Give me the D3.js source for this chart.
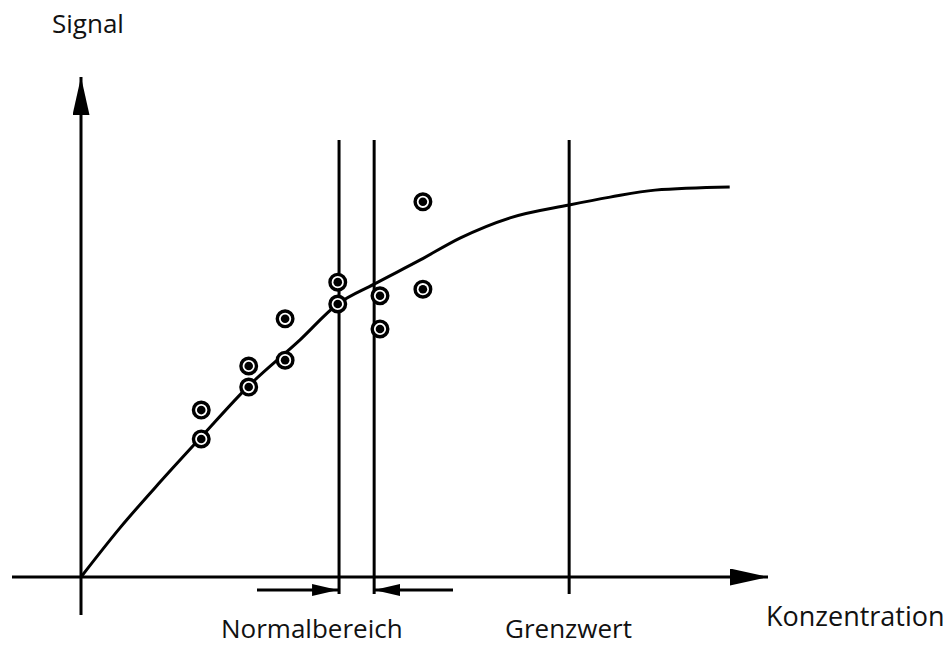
<!DOCTYPE html>
<html>
<head>
<meta charset="utf-8">
<script src="https://cdn.jsdelivr.net/npm/d3@7"></script>
<style>
  body { margin: 0; background: #fff; }
  text { font-family: "Open Sans", sans-serif; font-size: 26px; fill: #111; }
</style>
</head>
<body>
<svg id="chart" width="952" height="646"></svg>
<script>
// calibration curve (concentration, signal) in arbitrary units 0..100
const curveX = [0, 6, 12.2, 18.5, 25.8, 33.7, 39.5, 45.1, 52.2, 58.3, 66, 75.1, 81.4, 88.3, 99.8]
const curveY = [0, 12.6, 24.4, 35.9, 49, 60.8, 70, 75.1, 81.3, 86.9, 92.1, 95.4, 97.4, 99.2, 100]

// measured points
const pointX = [18.5, 18.5, 25.8, 25.8, 31.4, 31.4, 39.5, 39.5, 46, 46, 52.6, 52.6]
const pointY = [35.4, 42.8, 48.7, 54.1, 55.6, 66.2, 70, 75.6, 72.1, 63.6, 73.8, 96.2]

// vertical reference lines: normal range bounds and limit value
const markerX = [39.7, 45.1, 75.1]
const labels = ['Normalbereich', 'Grenzwert']

const svg = d3.select('#chart')

const x = d3.scaleLinear().domain([0, 100]).range([81, 731])
const y = d3.scaleLinear().domain([0, 100]).range([577, 187])

// arrowhead markers
const defs = svg.append('defs')
defs.append('marker')
  .attr('id', 'head')
  .attr('viewBox', '0 0 38 17')
  .attr('refX', 38)
  .attr('refY', 8.5)
  .attr('markerWidth', 38)
  .attr('markerHeight', 17)
  .attr('markerUnits', 'userSpaceOnUse')
  .attr('orient', 'auto')
  .append('path')
  .attr('d', 'M0,0 L38,8.5 L0,17 Z')
  .attr('fill', '#000')

defs.append('marker')
  .attr('id', 'headSmall')
  .attr('viewBox', '0 0 26 12')
  .attr('refX', 26)
  .attr('refY', 6)
  .attr('markerWidth', 26)
  .attr('markerHeight', 12)
  .attr('markerUnits', 'userSpaceOnUse')
  .attr('orient', 'auto')
  .append('path')
  .attr('d', 'M0,0 L26,6 L0,12 Z')
  .attr('fill', '#000')

// axes
svg.append('line')
  .attr('x1', 12).attr('y1', y(0))
  .attr('x2', 768).attr('y2', y(0))
  .attr('stroke', '#000').attr('stroke-width', 3)
  .attr('marker-end', 'url(#head)')

svg.append('line')
  .attr('x1', x(0)).attr('y1', 615)
  .attr('x2', x(0)).attr('y2', 77)
  .attr('stroke', '#000').attr('stroke-width', 3)
  .attr('marker-end', 'url(#head)')

// vertical lines
svg.selectAll('line.vline')
  .data(markerX)
  .enter()
  .append('line')
  .attr('class', 'vline')
  .attr('x1', d => x(d)).attr('x2', d => x(d))
  .attr('y1', 140).attr('y2', 594)
  .attr('stroke', '#000').attr('stroke-width', 3)

// normal range arrows pointing at the two bounds
svg.append('line')
  .attr('x1', 257).attr('y1', 590)
  .attr('x2', x(markerX[0]) - 1).attr('y2', 590)
  .attr('stroke', '#000').attr('stroke-width', 3)
  .attr('marker-end', 'url(#headSmall)')

svg.append('line')
  .attr('x1', 453).attr('y1', 590)
  .attr('x2', x(markerX[1])).attr('y2', 590)
  .attr('stroke', '#000').attr('stroke-width', 3)
  .attr('marker-end', 'url(#headSmall)')

// curve
const line = d3.line()
  .x(d => x(d[0]))
  .y(d => y(d[1]))
  .curve(d3.curveMonotoneX)

svg.append('path')
  .datum(d3.zip(curveX, curveY))
  .attr('d', line)
  .attr('fill', 'none')
  .attr('stroke', '#000')
  .attr('stroke-width', 3)
  .attr('stroke-linejoin', 'round')

// points
const pts = svg.selectAll('g.pt')
  .data(d3.zip(pointX, pointY))
  .enter()
  .append('g')
  .attr('class', 'pt')
  .attr('transform', d => 'translate(' + x(d[0]) + ',' + y(d[1]) + ')')

pts.append('circle')
  .attr('r', 7.8)
  .attr('fill', '#fff')
  .attr('stroke', '#000')
  .attr('stroke-width', 3.4)

pts.append('circle')
  .attr('r', 4.3)
  .attr('fill', '#000')

// labels
svg.append('text').attr('x', 52).attr('y', 33).text('Signal')
svg.append('text').attr('x', 766).attr('y', 626).style('font-size', '27px').text('Konzentration')
svg.append('text').attr('x', 221).attr('y', 638).text(labels[0])
svg.append('text').attr('x', 505).attr('y', 638).text(labels[1])
</script>
</body>
</html>
